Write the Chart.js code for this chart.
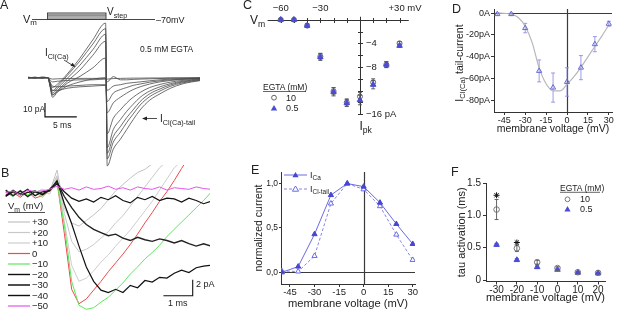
<!DOCTYPE html>
<html><head><meta charset="utf-8">
<script src="https://cdn.jsdelivr.net/npm/chart.js@4.4.1/dist/chart.umd.min.js"></script>
<style>
html,body{margin:0;padding:0;background:#fff;}
body{width:617px;height:311px;position:relative;overflow:hidden;font-family:"Liberation Sans",Arial,Helvetica,sans-serif;color:#222;}
canvas{position:absolute;display:block;}
.lb{position:absolute;white-space:nowrap;line-height:1;}
.lb sub{font-size:0.72em;vertical-align:-0.35em;line-height:0;}
#deco{position:absolute;left:0;top:0;}
</style></head><body>
<canvas id="cA" width="200" height="150" style="left:0;top:20px"></canvas>
<div id="boxB" style="position:absolute;left:0;top:165px;width:210px;height:146px;overflow:hidden"><canvas id="cB" width="210" height="146" style="left:0;top:0"></canvas></div>
<canvas id="cC" width="220" height="160" style="left:200px;top:0"></canvas>
<canvas id="cD" width="197" height="140" style="left:420px;top:0"></canvas>
<canvas id="cE" width="210" height="151" style="left:210px;top:160px"></canvas>
<canvas id="cF" width="197" height="151" style="left:420px;top:160px"></canvas>
<svg id="deco" width="617" height="311"></svg>
<script>
// ---------------- DATA ----------------
// Panel A: current traces (ms, pA), time from step onset
const tA = [-3.1,-2,-1,0,0.3,0.7,1.5,3,5,7,9,9.25,10.2,11.3,12.3,13.3,14.4,15.9,17.5,19.1,21.1,23.75];
const traceA1 = [0.4,-0.3,0.2,0,-3,-7,-4.5,2.6,14,27,39,-63,-51,-44,-37,-30,-23,-16,-11.5,-7.6,-4.3,-2.1];
const traceA2 = [-0.2,0.3,-0.3,0,-4,-9.5,-6,1.5,12,24,35,-58,-46,-39,-32,-26,-19.5,-13.5,-9.5,-6.2,-3.6,-1.8];
const traceA3 = [0.2,-0.4,0.3,0,-5,-11,-7.5,-0.5,9,20,31,-54,-42,-35,-28.5,-23,-17,-11.5,-8,-5.2,-3,-1.5];
const traceA4 = [-0.3,0.2,-0.2,0,-5,-12.5,-9,-2.5,5.5,16,26,-50,-37,-30,-24,-19,-14,-9.5,-6.5,-4.3,-2.5,-1.2];
const traceA5 = [0.3,0,0.3,0,-6,-14,-10,-4,1,7,14,-40,-29,-23,-18,-14,-10.5,-7,-4.8,-3.2,-1.9,-0.9];
const traceA6 = [0,-0.3,0.2,0,-5,-12,-10,-6,-3,-1,0,-25,-18,-14,-11,-8.5,-6.5,-4.5,-3,-2,-1.2,-0.5];
const traceA7 = [-0.3,0.2,0,0,-4,-9,-9,-7.5,-6.5,-6,-5.5,-17,-11,-8.5,-7,-5.5,-4.5,-3.2,-2.2,-1.5,-1,-0.4];
const traceA8 = [0.2,0,-0.3,0,-3,-6,-6.5,-6,-5.5,-5,-5,-9,-6,-5,-4,-3.5,-3,-2.2,-1.5,-1,-0.7,-0.3];
const traceA9 = [0,0.3,-0.2,0,-1.5,-3,-2.5,-2,-1.5,-1.5,-1,-3,0.8,-1.5,-1.5,-1.2,-1,-0.8,-0.6,-0.4,-0.3,-0.2];
const traceA10 = [-0.2,0,0.2,0,-0.5,-1,-0.8,-0.6,-0.5,-0.5,-0.5,-1,-0.6,-0.5,-0.4,-0.3,-0.3,-0.2,-0.2,-0.1,-0.1,0];
const scaleBarAx = [-0.47,-0.47,4.5];
const scaleBarAy = [-18,-28,-28];

// Panel B: traces (ms, pA)
const tB = [-1.75,-1.5,-1.25,-1,-0.75,-0.5,-0.25,0,0.25,0.5,0.75,1,1.25,1.5,1.75,2,2.25,2.5,2.75,3,3.25,3.5,3.75,4,4.25,4.5,4.75,5,5.25];
const vmB_p30 = [0.3,-0.2,0.4,-0.3,0.1,0.5,0.2,2.9,-1.8,-3.7,-4.1,-3.4,-2.7,-1.9,-0.8,0.3,1.1,1.9,2.6,3.0,3.7];
const vmB_p20 = [-0.1,0.3,-0.4,0.2,-0.3,0.1,0.4,2.2,-2.5,-6,-7.3,-7,-6.4,-5.6,-4.8,-3.7,-2.8,-1.6,-0.4,0.8,2,3.2,4];
const vmB_p10 = [0.2,-0.3,0.1,0.4,-0.2,0.3,-0.1,2.0,-3.5,-9,-11,-10.6,-9.7,-8.6,-7.7,-6.6,-5.6,-4.6,-3.4,-2.2,-1,0.4,1.8,3.2,4];
const vmB_0 = [-0.2,0.1,-0.5,0.2,-0.6,-0.3,0.3,1.5,-5,-12,-13.8,-13.2,-12.1,-11,-9.8,-8.7,-7.6,-6.4,-5.1,-3.7,-2.4,-1.0,0.2,1.6,3.1,4.5];
const vmB_m10 = [0.1,-0.4,0.3,-0.2,0.2,-0.5,0.4,1.3,-4,-11,-14,-14.5,-14.3,-13.6,-13,-12.1,-11.2,-10.1,-9.2,-8.2,-7.4,-6.5,-5.4,-4.5,-3.6,-2.7,-1.8,-0.9,0.1];
const vmB_m20 = [-0.4,0.2,-0.1,0.5,-0.3,0.2,0.3,1.6,-1.3,-3.8,-6.6,-9.2,-11,-12.1,-12.4,-12.0,-12.4,-11.5,-11.8,-10.9,-11.1,-10.5,-10.6,-10.0,-9.6,-9.9,-9.3,-9.1,-9.0];
const vmB_m30 = [0.4,-0.3,0.3,-0.4,0.2,-0.1,0.5,1.4,-0.4,-1.8,-3.0,-3.9,-4.5,-4.9,-5.3,-5.1,-5.6,-5.9,-5.5,-5.8,-6.0,-5.7,-5.9,-6.2,-5.9,-6.3,-6.6,-6.3,-6.6];
const vmB_m40 = [-0.3,0.4,-0.2,0.1,0.3,-0.2,0.4,1.2,0.2,-0.6,-1.0,-0.7,-1.1,-0.5,-0.8,-0.3,-0.9,-1.2,-0.5,-0.8,-0.4,-0.9,-0.6,-0.7,-1.1,-0.6,-0.9,-1.3,-1.0];
const vmB_m50 = [0.1,0.3,-0.2,0.4,0.2,0.3,0.5,0.9,0.5,0.7,0.4,0.8,0.5,0.6,0.9,0.5,0.7,0.4,0.8,0.6,0.5,0.8,0.4,0.7,0.6,0.5,0.8,0.6,0.5];
const legendB = ['+30','+20','+10','0','\u221210','\u221220','\u221230','\u221240','\u221250'];
const colorsB = ['#c2c2c2','#c8c8c8','#cdcdcd','#ee4a4a','#5ee85e','#111111','#222222','#111111','#e455ea'];
const scaleBarBx = [3.63,4.63,4.63];
const scaleBarBy = [-12.8,-12.8,-10.8];

// Panel C: peak current vs Vm
const vC = [-60,-50,-40,-30,-20,-10,0,10,20,30];
const ipk10 = [0,0,-1.0,-6.2,-12.1,-14.0,-13.0,-10.6,-7.6,-4.0];
const ipk05 = [0,0,-1.0,-6.3,-12.2,-14.1,-13.6,-11.0,-7.6,-4.4];
const errC10 = [0.15,0.15,0.3,0.5,0.6,0.6,0.7,0.6,0.5,0.3];
const errC05 = [0.15,0.15,0.3,0.6,0.7,0.6,0.8,0.7,0.5,0.3];
const cTicksX = [-60,-50,-40,-30,-20,-10,10,20,30];
const cTicksY = [-2,-4,-6,-8,-10,-12,-14,-16];
const cLabelXVals = [-60,-30,30];
const cLabelXTexts = ['\u221260','\u221230','+30 mV'];
const cLabelYVals = [-4,-8,-16];
const cLabelYTexts = ['\u22124','\u22128','\u221216 pA'];

// Panel D: tail current vs Vm
const vD = [-50,-40,-30,-20,-10,0,10,20,30];
const iTailD = [-1,-1,-13.7,-52.8,-68,-62.9,-49.8,-28.4,-9.8];
const errTailD = [1,1,4.3,10,13.3,13,11,6.9,2.3];
const vFitD = [-50,-45,-40,-35,-30,-25,-20,-15,-10,-5,0,5,10,15,20,25,30];
const iFitD = [0,-0.3,-1,-4,-12,-27,-50,-64.5,-71,-71,-65,-58,-49.5,-40,-30.5,-21,-11];
const dTicksX = [-45,-30,-15,0,15,30];
const dTicksY = [0,-20,-40,-60,-80];
const dTickLabelsY = ['0A','-20pA','-40pA','-60pA','-80pA'];

// Panel E: normalized currents
const vE = [-50,-40,-30,-20,-10,0,10,20,30];
const nICa = [0.0,0.065,0.43,0.87,1.0,0.965,0.785,0.545,0.32];
const nIClTail = [0.015,0.01,0.185,0.775,1.0,0.935,0.745,0.425,0.14];
const eTicksX = [-45,-30,-15,0,15,30];
const eTicksY = [0,0.5,1];
const eTickLabelsY = ['0,0','0,5','1,0'];

// Panel F: tau activation
const vF = [-30,-20,-10,0,10,20];
const tau10 = [1.09,0.49,0.275,0.185,0.12,0.11];
const errTau10 = [0.155,0.05,0.03,0.02,0.01,0.01];
const tau05 = [0.545,0.31,0.2,0.16,0.115,0.105];
const errTau05 = [0.02,0.02,0.02,0.01,0.01,0.01];
const vStar = [-30,-20];
const yStar = [1.31,0.58];
const fTicksX = [-30,-20,-10,0,10,20];
const fTicksY = [0,0.5,1,1.5];
const fTickLabelsY = ['0','0.5','1.0','1.5'];

// ---------------- HELPERS ----------------
Chart.defaults.font.family = '"Liberation Sans", Arial, Helvetica, sans-serif';
Chart.defaults.color = '#222';
const xy = (xs, ys) => ys.map((y, i) => ({x: xs[i], y}));
const base = () => ({responsive:false, animation:false, events:[], devicePixelRatio:1,
  plugins:{legend:{display:false}, tooltip:{enabled:false}}});

function axis(o){
  return {type:'linear', min:o.min, max:o.max,
    afterBuildTicks:s=>{ s.ticks = o.ticks.map(v=>({value:v})); },
    afterFit:s=>{ if(o.w!==undefined) s.width=o.w; if(o.h!==undefined) s.height=o.h; },
    ticks:{font:{size:o.fs}, color:'#222', padding:o.pad===undefined?1:o.pad, autoSkip:false, maxRotation:0,
      callback:(v)=>{ if(o.labels){ const k=o.ticks.indexOf(v); return k>=0?o.labels[k]:''; } return String(v); }},
    grid:{display:true, drawOnChartArea:false, drawTicks:true, tickLength:o.tl===undefined?3:o.tl, color:'#333', lineWidth:1},
    border:{display:true, color:'#333', width:1},
    title:o.title?{display:true, text:o.title, font:{size:o.tfs}, padding:o.tpad, color:'#222'}:{display:false}
  };
}

const errPlug = {id:'errPlug', beforeDatasetsDraw(ch){
  const {ctx} = ch; const xs = ch.scales.x, ys = ch.scales.y;
  ch.data.datasets.forEach(ds=>{
    if(!ds.errors) return;
    ctx.save(); ctx.strokeStyle = ds.errColor || '#444'; ctx.lineWidth = 0.9;
    ds.data.forEach((p,j)=>{
      const e = ds.errors[j]; if(!e) return;
      const px = xs.getPixelForValue(p.x), y1 = ys.getPixelForValue(p.y+e), y2 = ys.getPixelForValue(p.y-e);
      const c = ds.capW || 2;
      ctx.beginPath(); ctx.moveTo(px,y1); ctx.lineTo(px,y2);
      ctx.moveTo(px-c,y1); ctx.lineTo(px+c,y1); ctx.moveTo(px-c,y2); ctx.lineTo(px+c,y2); ctx.stroke();
    });
    ctx.restore();
  });
}};

const zeroPlug = {id:'zeroPlug', beforeDatasetsDraw(ch){
  const {ctx, chartArea:a} = ch; const xs = ch.scales.x, ys = ch.scales.y;
  ctx.save(); ctx.strokeStyle = '#3a3a3a'; ctx.lineWidth = 1.2;
  const x0 = Math.round(xs.getPixelForValue(0))+0.5, y0 = Math.round(ys.getPixelForValue(0))+0.5;
  ctx.beginPath(); ctx.moveTo(x0,a.top); ctx.lineTo(x0,a.bottom); ctx.moveTo(a.left,y0); ctx.lineTo(a.right,y0); ctx.stroke();
  ctx.restore();
}};

function lab(x, y, html, size, align, rot){
  const d = document.createElement('div'); d.className = 'lb'; d.innerHTML = html;
  d.style.left = x+'px'; d.style.top = y+'px'; d.style.fontSize = size+'px';
  const tx = align==='c' ? '-50%' : align==='r' ? '-100%' : '0';
  d.style.transform = rot ? 'translate(-50%,-50%) rotate(-90deg)' : `translate(${tx},-50%)`;
  document.body.appendChild(d); return d;
}

// ---------------- PANEL A ----------------
const tracesA = [traceA1,traceA2,traceA3,traceA4,traceA5,traceA6,traceA7,traceA8,traceA9,traceA10];
new Chart(document.getElementById('cA'), {type:'line',
  data:{datasets: tracesA.map(tr=>({data:xy(tA,tr), borderColor:'#4a4a4a', borderWidth:0.8, pointRadius:0, cubicInterpolationMode:'monotone'}))
    .concat([{data:xy(scaleBarAx,scaleBarAy), borderColor:'#111', borderWidth:1.2, pointRadius:0, tension:0}])},
  options:{...base(), layout:{padding:0}, scales:{x:{type:'linear', display:false, min:-7.5, max:23.75}, y:{type:'linear', display:false, min:-65.9, max:41.2}}}
});

// ---------------- PANEL B ----------------
const tracesB = [vmB_p30,vmB_p20,vmB_p10,vmB_0,vmB_m10,vmB_m20,vmB_m30,vmB_m40,vmB_m50];
const widthsB = [1,1,1,1,1,1.2,1.4,1.2,1];
new Chart(document.getElementById('cB'), {type:'line',
  data:{datasets: tracesB.map((tr,i)=>({data:xy(tB,tr), borderColor:colorsB[i], borderWidth:widthsB[i], pointRadius:0, tension:0}))
    .reverse()
    .concat([{data:xy(scaleBarBx,scaleBarBy), borderColor:'#111', borderWidth:1.1, pointRadius:0, tension:0}])},
  options:{...base(), layout:{padding:0}, scales:{x:{type:'linear', display:false, min:-1.945, max:5.22}, y:{type:'linear', display:false, min:-14.71, max:3.54}}}
});

// ---------------- PANEL C ----------------
const cAxisPlug = {id:'cAxis', beforeDatasetsDraw(ch){
  const {ctx} = ch; const x = ch.scales.x, y = ch.scales.y;
  const y0 = Math.round(y.getPixelForValue(0))+0.5, x0 = Math.round(x.getPixelForValue(0))+0.5;
  ctx.save(); ctx.strokeStyle = '#333'; ctx.lineWidth = 1; ctx.beginPath();
  ctx.moveTo(x.getPixelForValue(-70), y0); ctx.lineTo(x.getPixelForValue(37), y0);
  ctx.moveTo(x0, y.getPixelForValue(0.5)); ctx.lineTo(x0, y.getPixelForValue(-16));
  cTicksX.forEach(v=>{ const p = Math.round(x.getPixelForValue(v))+0.5; ctx.moveTo(p,y0-2.5); ctx.lineTo(p,y0+2.5); });
  cTicksY.forEach(v=>{ const p = Math.round(y.getPixelForValue(v))+0.5; ctx.moveTo(x0-2.5,p); ctx.lineTo(x0+2.5,p); });
  ctx.stroke(); ctx.restore();
}};
const chC = new Chart(document.getElementById('cC'), {type:'scatter',
  data:{datasets:[
    {data:xy(vC,ipk05), errors:errC05, errColor:'#555', pointStyle:'triangle', pointRadius:3.2, pointBorderColor:'#4b4bd4', pointBackgroundColor:'#4b4bd4', pointBorderWidth:1},
    {data:xy(vC,ipk10), errors:errC10, errColor:'#555', pointStyle:'circle', pointRadius:2.5, pointBorderColor:'#555', pointBackgroundColor:'rgba(255,255,255,0)', pointBorderWidth:0.9}
  ]},
  options:{...base(), layout:{padding:0}, scales:{x:{type:'linear', display:false, min:-117.4, max:41.7}, y:{type:'linear', display:false, min:-22.9, max:2.49}}},
  plugins:[cAxisPlug, errPlug]
});
{
  const x = chC.scales.x, y = chC.scales.y, L = 200, T = 0;
  cLabelXVals.forEach((v,i)=>{ const px = L + x.getPixelForValue(v); if(i<2) lab(px, T+7.5, cLabelXTexts[i], 9.5, 'c'); else lab(px-11, T+7.5, cLabelXTexts[i], 9.5, 'l'); });
  const x0 = L + x.getPixelForValue(0);
  cLabelYVals.forEach((v,i)=>{ lab(x0+6, T + y.getPixelForValue(v), cLabelYTexts[i], 9.5, 'l'); });
  lab(250, 19.5, 'V<sub>m</sub>', 12, 'l');
  lab(x0-0.5, 126, 'I<sub>pk</sub>', 12, 'l');
}

// ---------------- PANEL D ----------------
new Chart(document.getElementById('cD'), {type:'scatter',
  data:{datasets:[
    {data:xy(vD,iTailD), errors:errTailD, errColor:'#8f8fe8', pointStyle:'triangle', pointRadius:3, pointBorderColor:'#6a6ad8', pointBackgroundColor:'rgba(255,255,255,0)', pointBorderWidth:1},
    {data:xy(vFitD,iFitD), showLine:true, borderColor:'#b8b8b8', borderWidth:1.2, pointRadius:0, cubicInterpolationMode:'monotone'}
  ]},
  options:{...base(), layout:{padding:{left:0,top:9,right:1,bottom:0}},
    scales:{
      x:axis({min:-52.4, max:32.3, ticks:dTicksX, fs:9, h:28, pad:0, title:'membrane voltage (mV)', tfs:10.5, tpad:{top:0,bottom:5}}),
      y:axis({min:-90.3, max:3.7, ticks:dTicksY, labels:dTickLabelsY, fs:9, w:74, pad:1})
    }},
  plugins:[zeroPlug, errPlug]
});

// ---------------- PANEL E ----------------
new Chart(document.getElementById('cE'), {type:'scatter',
  data:{datasets:[
    {data:xy(vE,nICa), showLine:true, borderColor:'#6a6ae0', borderWidth:1, pointStyle:'triangle', pointRadius:3, pointBorderColor:'#4646d2', pointBackgroundColor:'#4646d2', pointBorderWidth:1},
    {data:xy(vE,nIClTail), showLine:true, borderColor:'#8585e6', borderDash:[3,2], borderWidth:1, pointStyle:'triangle', pointRadius:3, pointBorderColor:'#6a6ae0', pointBackgroundColor:'#fff', pointBorderWidth:1}
  ]},
  options:{...base(), layout:{padding:{left:0,top:12,right:1,bottom:0}},
    scales:{
      x:axis({min:-50.5, max:31.4, ticks:eTicksX, fs:9.5, h:27, pad:0, title:'membrane voltage (mV)', tfs:11.2, tpad:{top:0,bottom:0}}),
      y:axis({min:-0.131, max:1.13, ticks:eTicksY, labels:eTickLabelsY, fs:8.5, w:71, pad:1, tl:2, title:'normalized current', tfs:10.5, tpad:{top:42.5,bottom:0}})
    }},
  plugins:[zeroPlug]
});

// ---------------- PANEL F ----------------
new Chart(document.getElementById('cF'), {type:'scatter',
  data:{datasets:[
    {data:xy(vStar,yStar), pointStyle:'star', pointRadius:3, pointBorderColor:'#111', pointBackgroundColor:'#111', pointBorderWidth:1},
    {data:xy(vF,tau10), errors:errTau10, errColor:'#555', pointStyle:'circle', pointRadius:2.8, pointBorderColor:'#6a6a6a', pointBackgroundColor:'rgba(255,255,255,0)', pointBorderWidth:0.9},
    {data:xy(vF,tau05), errors:errTau05, errColor:'#4b4bd4', pointStyle:'triangle', pointRadius:3.2, pointBorderColor:'#4b4bd4', pointBackgroundColor:'#4b4bd4', pointBorderWidth:1}
  ]},
  options:{...base(), layout:{padding:{left:0,top:23,right:12,bottom:0}},
    scales:{
      x:axis({min:-35.2, max:23.4, ticks:fTicksX, fs:10, h:29.5, pad:0, title:'membrane voltage (mV)', tfs:11.5, tpad:{top:0,bottom:6}}),
      y:axis({min:-0.023, max:1.5, ticks:fTicksY, labels:fTickLabelsY, fs:10, w:66, pad:2, title:'tau activation (ms)', tfs:11, tpad:{top:35,bottom:0}})
    }},
  plugins:[errPlug]
});

// ---------------- DECORATIONS & TEXT ----------------
let svg = '';
// protocol (A)
svg += '<line x1="32" y1="19.5" x2="155" y2="19.5" stroke="#333" stroke-width="0.9"/>';
svg += '<rect x="47.5" y="13" width="58.5" height="6.5" fill="#f4f4f4" stroke="#333" stroke-width="0.9"/>';
[14.3,15.6,16.9,18.2].forEach(yy=>{ svg += `<line x1="47.5" y1="${yy}" x2="106" y2="${yy}" stroke="#555" stroke-width="0.7"/>`; });
// arrows (A)
svg += '<line x1="64" y1="60" x2="72" y2="65" stroke="#222" stroke-width="0.8"/><polygon points="75.5,67 70.5,65.8 72.6,62.8" fill="#222"/>';
svg += '<line x1="157" y1="118.5" x2="146" y2="118.5" stroke="#222" stroke-width="0.8"/><polygon points="142,118.5 147,116.6 147,120.4" fill="#222"/>';
// legend markers (C)
svg += '<circle cx="274" cy="97.7" r="2.4" fill="#fff" stroke="#555" stroke-width="0.9"/>';
svg += '<polygon points="274,105 277.2,110.5 270.8,110.5" fill="#4b4bd4"/>';
svg += '<line x1="263" y1="91.5" x2="306" y2="91.5" stroke="#222" stroke-width="0.7"/>';
// legend (E)
svg += '<line x1="284" y1="175" x2="307" y2="175" stroke="#6a6ae0" stroke-width="1"/><polygon points="295.5,172 298.6,177.2 292.4,177.2" fill="#4646d2"/>';
svg += '<line x1="284" y1="189" x2="307" y2="189" stroke="#8585e6" stroke-width="1" stroke-dasharray="3,2"/><polygon points="295.5,186 298.6,191.2 292.4,191.2" fill="#fff" stroke="#6a6ae0" stroke-width="1"/>';
// legend (F)
svg += '<circle cx="567.5" cy="199.3" r="2.4" fill="#fff" stroke="#6a6a6a" stroke-width="0.9"/>';
svg += '<polygon points="567.5,206 570.6,211.4 564.4,211.4" fill="#4b4bd4"/>';
svg += '<line x1="560" y1="192.3" x2="600" y2="192.3" stroke="#222" stroke-width="0.7"/>';
// legend (B)
svg += '<line x1="8" y1="212.5" x2="45" y2="212.5" stroke="#222" stroke-width="0.8"/>';
legendB.forEach((t,i)=>{ const yy = 222 + i*10.5; svg += `<line x1="8" y1="${yy}" x2="30" y2="${yy}" stroke="${colorsB[i]}" stroke-width="${widthsB[i]+0.2}"/>`; });
document.getElementById('deco').innerHTML = svg;

// panel letters
lab(0, 5, 'A', 12.5, 'l'); lab(1, 173, 'B', 12.5, 'l'); lab(243, 5, 'C', 12.5, 'l');
lab(452, 9, 'D', 12.5, 'l'); lab(251, 170, 'E', 12.5, 'l'); lab(451, 172, 'F', 12.5, 'l');
// A texts
lab(23, 19, 'V<sub>m</sub>', 11, 'l');
lab(107, 12, 'V<sub>step</sub>', 10, 'l');
lab(156, 19.5, '\u201370mV', 9, 'l');
lab(140, 49, '0.5 mM EGTA', 8.5, 'l');
lab(45, 53, 'I<sub>Cl(Ca)</sub>', 10, 'l');
lab(23, 109, '10 pA', 8.5, 'l');
lab(53, 125, '5 ms', 8.5, 'l');
lab(160, 118.5, 'I<sub>Cl(Ca)-tail</sub>', 10, 'l');
// B texts
lab(8, 206, 'V<sub>m</sub> (mV)', 9.5, 'l');
legendB.forEach((t,i)=>{ lab(32, 222 + i*10.5, t, 9.5, 'l'); });
lab(196, 284, '2 pA', 9, 'l');
lab(168, 303, '1 ms', 9, 'l');
// C legend
lab(263, 87, 'EGTA (mM)', 8.5, 'l');
lab(286, 97.7, '10', 9, 'l');
lab(286, 108.3, '0.5', 9, 'l');
// D y title
lab(459, 63, 'I<sub>Cl(Ca)</sub> tail-current', 10.5, 'c', true);
// E legend
lab(310, 175, 'I<sub>Ca</sub>', 9, 'l');
lab(310, 189, 'I<sub>Cl-tail</sub>', 9, 'l');
// F legend
lab(560, 188, 'EGTA (mM)', 8.5, 'l');
lab(580, 199.3, '10', 9, 'l');
lab(580, 209, '0.5', 9, 'l');
</script>
</body></html>
